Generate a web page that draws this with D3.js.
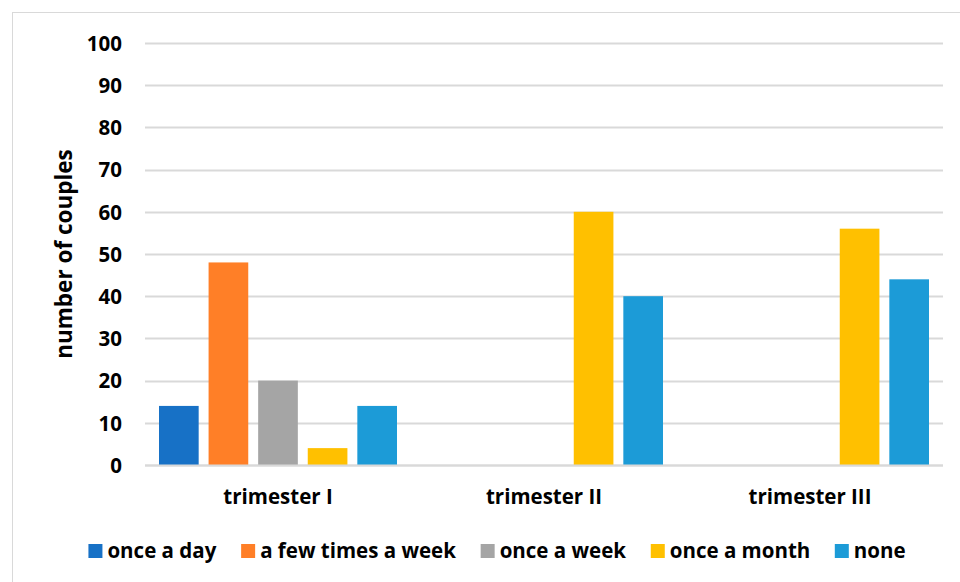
<!DOCTYPE html>
<html><head><meta charset="utf-8">
<script src="https://cdn.jsdelivr.net/npm/d3@7"></script>
<style>
html,body{margin:0;padding:0;background:#fff;}
text{font-family:"Open Sans",Lato,sans-serif;font-weight:700;fill:#000;}
</style></head>
<body><svg id="c" width="960" height="582"></svg>
<script>
const categories = ["trimester I", "trimester II", "trimester III"];
const seriesNames = ["once a day", "a few times a week", "once a week", "once a month", "none"];
const onceADay = [14, 0, 0];
const fewTimesAWeek = [48, 0, 0];
const onceAWeek = [20, 0, 0];
const onceAMonth = [4, 60, 56];
const none = [14, 40, 44];
const seriesValues = [onceADay, fewTimesAWeek, onceAWeek, onceAMonth, none];
const yTicks = [0, 10, 20, 30, 40, 50, 60, 70, 80, 90, 100];
const colors = ["#1771C6", "#FF7F27", "#A5A5A5", "#FFC000", "#1C9BD7"];
const yTitle = "number of couples";

const FS = "20.5px";
const svg = d3.select("#c");
svg.append("rect").attr("x", 12.5).attr("y", 12.5).attr("width", 960).attr("height", 580)
  .attr("fill", "#fff").attr("stroke", "#d9d9d9").attr("stroke-width", 1);

const L = 145, R = 943, T = 43, B = 465;
const x0 = d3.scaleBand().domain(categories).range([L, R]).padding(0);
const x1 = d3.scaleBand().domain(seriesNames).range([14, x0.bandwidth() - 14]).paddingInner(0.2).paddingOuter(0);
const y = d3.scaleLinear().domain([0, 100]).range([B, T]);

// gridlines
svg.append("g").selectAll("line").data(yTicks).join("line")
  .attr("x1", L).attr("x2", R)
  .attr("y1", d => Math.round(y(d)) + 0.5).attr("y2", d => Math.round(y(d)) + 0.5)
  .attr("stroke", "#d9d9d9").attr("stroke-width", 2);

// y axis labels
const yAxis = d3.axisLeft(y).tickValues(yTicks).tickSize(0).tickPadding(0);
const gy = svg.append("g").attr("transform", `translate(122,0)`).call(yAxis);
gy.select(".domain").remove();
gy.selectAll("text").style("font-size", FS).style("font-family", "Open Sans").style("font-weight", "700").attr("fill", "#000").attr("dy", "0.36em");

// bars
const groups = svg.append("g").selectAll("g").data(categories).join("g")
  .attr("transform", d => `translate(${x0(d)},0)`);
groups.selectAll("rect").data((d, i) => seriesNames.map((s, j) => ({s, v: seriesValues[j][i], j})))
  .join("rect")
  .attr("x", d => x1(d.s)).attr("width", x1.bandwidth())
  .attr("y", d => y(d.v)).attr("height", d => B - y(d.v))
  .attr("fill", d => colors[d.j]);

// baseline
svg.append("line").attr("x1", L).attr("x2", R).attr("y1", B + 0.5).attr("y2", B + 0.5)
  .attr("stroke", "#d9d9d9").attr("stroke-width", 2);

// x axis labels
const xAxis = d3.axisBottom(x0).tickSize(0).tickPadding(0);
const gx = svg.append("g").attr("transform", `translate(0,497)`).call(xAxis);
gx.select(".domain").remove();
gx.selectAll("text").style("font-size", FS).style("font-family", "Open Sans").style("font-weight", "700").attr("fill", "#000").attr("dy", "0.36em");

// y title
svg.append("text").attr("transform", `translate(64,${(T + B) / 2}) rotate(-90)`)
  .attr("text-anchor", "middle").attr("dy", "0.36em").style("font-size", "22.5px").text(yTitle);

// legend
const lg = svg.append("g");
const items = lg.selectAll("g").data(seriesNames).join("g");
items.append("rect").attr("width", 14).attr("height", 14).attr("y", -7).attr("fill", (d, i) => colors[i]);
items.append("text").attr("x", 19).attr("dy", "0.36em").style("font-size", FS).text(d => d);
let cx = 0;
const gap = 24.5;
items.each(function () {
  const w = this.getBBox().width;
  d3.select(this).attr("transform", `translate(${cx},551)`);
  cx += w + gap;
});
const total = cx - gap;
lg.attr("transform", `translate(${(89 + 905) / 2 - total / 2},0)`);
</script></body></html>
